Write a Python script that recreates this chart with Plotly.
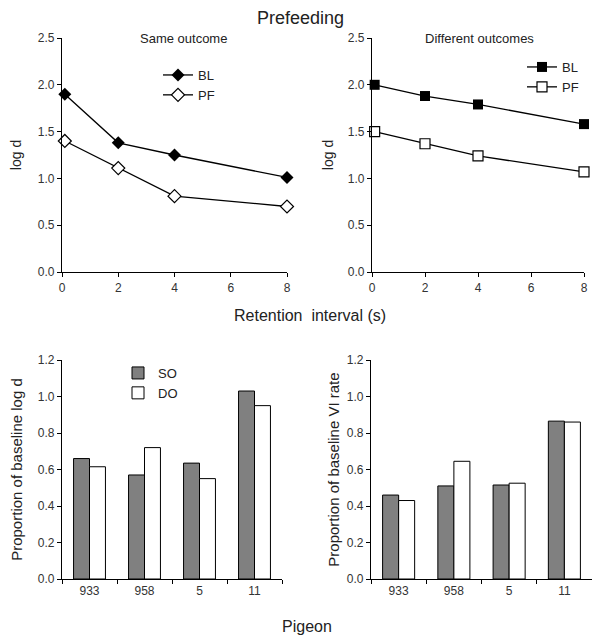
import plotly.graph_objects as go

# retention interval (s)
intervals = [0.1, 2, 4, 8]

# top left: same outcome, log d
same_bl = [1.90, 1.38, 1.25, 1.01]
same_pf = [1.40, 1.11, 0.81, 0.70]

# top right: different outcomes, log d
diff_bl = [2.00, 1.88, 1.79, 1.58]
diff_pf = [1.50, 1.37, 1.24, 1.07]

# bottom: pigeons
pigeons = ['933', '958', '5', '11']
logd_so = [0.66, 0.57, 0.635, 1.03]
logd_do = [0.615, 0.72, 0.55, 0.95]
vi_so = [0.46, 0.51, 0.515, 0.865]
vi_do = [0.43, 0.645, 0.525, 0.86]

FONT = 'Liberation Sans, Arial, sans-serif'
W, H = 600, 643
OFF = 8  # page body margin


def px(x):
    return (x - OFF) / W


def py(y):
    return 1 - (y - OFF) / H


fig = go.Figure()

line = dict(color='black', width=1.3)

fig.add_trace(go.Scatter(x=intervals, y=same_bl, name='BL', mode='lines+markers',
                         line=line, cliponaxis=False,
                         marker=dict(symbol='diamond', size=10, color='black'),
                         xaxis='x', yaxis='y', legend='legend'))
fig.add_trace(go.Scatter(x=intervals, y=same_pf, name='PF', mode='lines+markers',
                         line=line, cliponaxis=False,
                         marker=dict(symbol='diamond', size=10, color='white',
                                     line=dict(color='black', width=1.2)),
                         xaxis='x', yaxis='y', legend='legend'))

fig.add_trace(go.Scatter(x=intervals, y=diff_bl, name='BL', mode='lines+markers',
                         line=line, cliponaxis=False,
                         marker=dict(symbol='square', size=10, color='black'),
                         xaxis='x2', yaxis='y2', legend='legend2'))
fig.add_trace(go.Scatter(x=intervals, y=diff_pf, name='PF', mode='lines+markers',
                         line=line, cliponaxis=False,
                         marker=dict(symbol='square', size=10, color='white',
                                     line=dict(color='black', width=1.2)),
                         xaxis='x2', yaxis='y2', legend='legend2'))

bar_line = dict(color='black', width=1)
fig.add_trace(go.Bar(x=pigeons, y=logd_so, name='SO', marker=dict(color='#808080', line=bar_line),
                     xaxis='x3', yaxis='y3', legend='legend3'))
fig.add_trace(go.Bar(x=pigeons, y=logd_do, name='DO', marker=dict(color='white', line=bar_line),
                     xaxis='x3', yaxis='y3', legend='legend3'))
fig.add_trace(go.Bar(x=pigeons, y=vi_so, name='SO', marker=dict(color='#808080', line=bar_line),
                     xaxis='x4', yaxis='y4', showlegend=False))
fig.add_trace(go.Bar(x=pigeons, y=vi_do, name='DO', marker=dict(color='white', line=bar_line),
                     xaxis='x4', yaxis='y4', showlegend=False))

ax = dict(showline=True, linecolor='black', linewidth=1.3, showgrid=False, zeroline=False,
          ticks='outside', ticklen=4, tickcolor='black', automargin=False,
          tickfont=dict(size=12, color='#333333'))

top_y = [py(272), py(38)]
bot_y = [py(579), py(360)]

fig.update_layout(
    width=W, height=H,
    margin=dict(l=0, r=0, t=0, b=0),
    paper_bgcolor='white', plot_bgcolor='white',
    font=dict(family=FONT, color='#222222'),
    barmode='group', bargap=0.42, bargroupgap=0,
    xaxis=dict(ax, domain=[px(62), px(287)], range=[0, 8], tickvals=[0, 2, 4, 6, 8], anchor='y'),
    yaxis=dict(ax, domain=top_y, range=[0, 2.5], dtick=0.5, tickformat='.1f', anchor='x',
               title=dict(text='log d', font=dict(size=14), standoff=14)),
    xaxis2=dict(ax, domain=[px(372), px(584)], range=[0, 8], tickvals=[0, 2, 4, 6, 8], anchor='y2'),
    yaxis2=dict(ax, domain=top_y, range=[0, 2.5], dtick=0.5, tickformat='.1f', anchor='x2',
                title=dict(text='log d', font=dict(size=14), standoff=10)),
    xaxis3=dict(ax, domain=[px(62), px(282)], type='category', tickson='boundaries', anchor='y3'),
    yaxis3=dict(ax, domain=bot_y, range=[0, 1.2], dtick=0.2, tickformat='.1f', anchor='x3',
                title=dict(text='Proportion of baseline log d', font=dict(size=15), standoff=14)),
    xaxis4=dict(ax, domain=[px(371), px(592)], type='category', tickson='boundaries', anchor='y4'),
    yaxis4=dict(ax, domain=bot_y, range=[0, 1.2], dtick=0.2, tickformat='.1f', anchor='x4',
                title=dict(text='Proportion of baseline VI rate', font=dict(size=15), standoff=3)),
    legend=dict(x=px(158), y=py(60), xanchor='left', yanchor='top', bgcolor='rgba(0,0,0,0)',
                font=dict(size=13), tracegroupgap=0),
    legend2=dict(x=px(522), y=py(52), xanchor='left', yanchor='top', bgcolor='rgba(0,0,0,0)',
                 font=dict(size=13)),
    legend3=dict(x=px(118), y=py(358), xanchor='left', yanchor='top', bgcolor='rgba(0,0,0,0)',
                 font=dict(size=13)),
    showlegend=True,
)

texts = [
    ('Prefeeding', 300, 18, 18),
    ('Same outcome', 183, 38, 13),
    ('Different outcomes', 479, 38, 13),
    ('Retention  interval (s)', 310, 315, 16),
    ('Pigeon', 307, 626, 16),
]
for t, x, y, s in texts:
    fig.add_annotation(text=t, x=px(x), y=py(y), xref='paper', yref='paper',
                       xanchor='center', yanchor='middle',
                       showarrow=False, font=dict(size=s))

fig.write_html('out.html')
